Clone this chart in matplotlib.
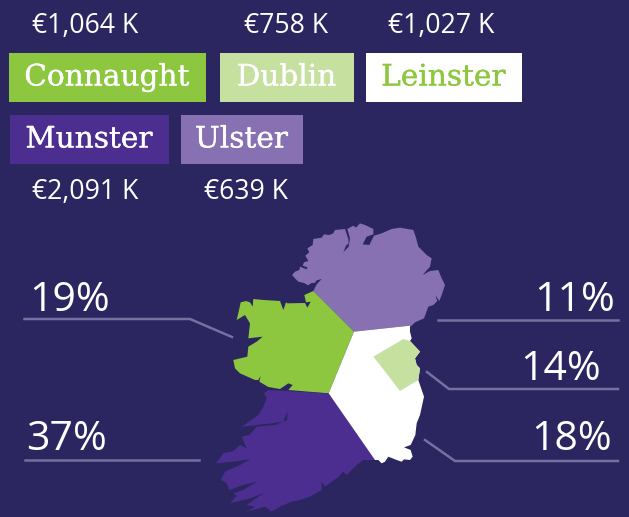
import matplotlib
matplotlib.use('Agg')
import matplotlib.pyplot as plt
from matplotlib.patches import Polygon, Rectangle
import matplotlib.patheffects as pe

regions = ['Connaught', 'Dublin', 'Leinster', 'Munster', 'Ulster']
amounts = ['€1,064 K', '€758 K', '€1,027 K', '€2,091 K', '€639 K']
shares = ['19%', '14%', '18%', '37%', '11%']

BG = '#2b2660'
GREEN = '#8dc73f'
LIGHT = '#c6e0a0'
WHITE = '#ffffff'
DEEP = '#4b2e8f'
PURPLE = '#8771b2'
LINE = '#75709f'

def top(pts):
    return [(200 + x / 3, 215 + y / 3) for x, y in pts]

def bot(pts):
    return [(200 + x / 3, 365 + y / 3) for x, y in pts]

ulster_outline = top([(340,228),(350,208),(365,192),(350,196),(345,203),(332,205),(325,211),(312,204),(295,200),(285,190),
    (276,180),(285,170),(298,165),(300,155),(320,163),(322,157),(308,152),(312,142),(325,138),(316,122),(328,112),(322,100),
    (338,90),(340,72),(365,68),(372,58),(388,60),(400,55),(405,45),(435,42),(445,72),(446,85),(438,92),(430,112),(446,95),
    (450,70),(442,42),(460,32),(468,38),(480,25),(495,30),(520,42),(520,58),(500,65),(488,88),(508,90),(522,62),(545,55),
    (575,42),(600,38),(640,45),(648,68),(655,95),(680,120),(695,130),(690,155),(668,180),(690,168),(715,165),(725,190),
    (735,210),(725,240),(718,258),(706,240),(712,258),(700,270),(685,275),(672,310),(645,322),(632,335),(630,332),(462,350)])
connaught_outline = top([(340,228),(313,240),(318,262),(332,260),(322,278),(315,264),(262,265),(258,262),(250,285),(240,258),
    (190,255),(160,252),(158,275),(150,262),(138,258),(122,262),(116,290),(110,315),(135,300),(150,325),(145,370),(188,365),
    (170,380),(145,395),(142,425),(100,435)]) + bot([(105,10),(120,25),(165,45),(175,45),(182,33),(178,50),(205,66),
    (240,72),(265,55),(278,60),(265,75),(386,85)]) + top([(462,350)])
munster_outline = bot([(386,85),(260,78),(205,75),(192,85),(200,100),(190,125),(175,150),(125,185),(170,180),(215,175),(250,170),
    (262,140),(262,165),(225,180),(170,185),(148,210),(125,215),(140,250),(120,240),(100,258),(70,265),(48,295),(100,290),
    (150,283),(120,300),(75,320),(63,345),(80,355),(88,375),(130,360),(170,350),(130,375),(100,385),(110,392),(90,415),
    (150,400),(190,385),(140,420),(165,425),(140,440),(195,425),(215,440),(240,425),(275,410),(300,405),(330,395),(365,375),
    (365,350),(375,365),(410,340),(430,320),(440,330),(470,300),(490,285),(525,285)])
leinster_outline = top([(462,350),(630,332),(630,350),(635,370),(630,378),(660,410),(645,430),(650,450)]) + bot([
    (660,10),(655,45),(672,95),(660,150),(650,175),(646,210),(632,240),(612,247),(632,255),(638,275),(630,285),(612,283),
    (605,290),(590,285),(565,275),(555,290),(545,295),(535,285),(525,285),(386,85)])
dublin_outline = top([(520,425),(610,372),(630,378),(660,410),(645,430),(650,450)]) + bot([(660,10),(655,45),(600,78),(540,0)])

fig = plt.figure(figsize=(6.29, 5.17), dpi=100, facecolor=BG)
ax = fig.add_axes([0, 0, 1, 1])
ax.set_xlim(0, 629)
ax.set_ylim(517, 0)
ax.axis('off')

for pts, col in [(ulster_outline, PURPLE), (connaught_outline, GREEN), (munster_outline, DEEP),
                 (leinster_outline, WHITE), (dublin_outline, LIGHT)]:
    ax.add_patch(Polygon(pts, closed=True, fc=col, ec='none', zorder=2))

SERIF = 'DejaVu Serif'
SANS = 'Open Sans'
legend_boxes = [(9, 53, 197, 49), (220, 53, 134, 49), (366, 53, 156, 49), (10, 115, 159, 49), (181, 115, 122, 49)]
legend_fill = [GREEN, LIGHT, WHITE, DEEP, PURPLE]
legend_text = [WHITE, WHITE, GREEN, WHITE, WHITE]
for name, (x, y, w, h), fc, tc in zip(regions, legend_boxes, legend_fill, legend_text):
    ax.add_patch(Rectangle((x, y), w, h, fc=fc, ec='none', zorder=2))
    t = ax.text(x + w / 2 - 0.5, y + h / 2, name, color=tc, fontsize=21.3, family=SERIF, ha='center', va='center', zorder=3)
    t.set_path_effects([pe.withStroke(linewidth=0.2, foreground=tc)])

for label, (x, y) in zip(amounts, [(85.5, 26), (286.5, 26), (441, 26), (85.5, 192), (246.5, 192)]):
    ax.text(x, y, label, color=WHITE, fontsize=19.2, family=SANS, ha='center', va='center')

for label, (x, y, ha) in zip(shares, [(29, 301, 'left'), (601, 370, 'right'), (612, 440, 'right'),
                                      (26, 440, 'left'), (615, 301, 'right')]):
    ax.text(x, y, label, color=WHITE, fontsize=29.5, family=SANS, ha=ha, va='center')

leaders = [[(24.5, 319), (190, 319), (232, 337)], [(427, 372), (449, 389), (618, 389)],
           [(425, 440), (455, 461), (618, 461)], [(24.5, 460), (199, 460)], [(438, 320), (618, 320)]]
for seg in leaders:
    ax.plot(*zip(*seg), color=LINE, lw=1.8, solid_joinstyle='miter', zorder=1)

fig.savefig('out.png', dpi=100, facecolor=BG)
